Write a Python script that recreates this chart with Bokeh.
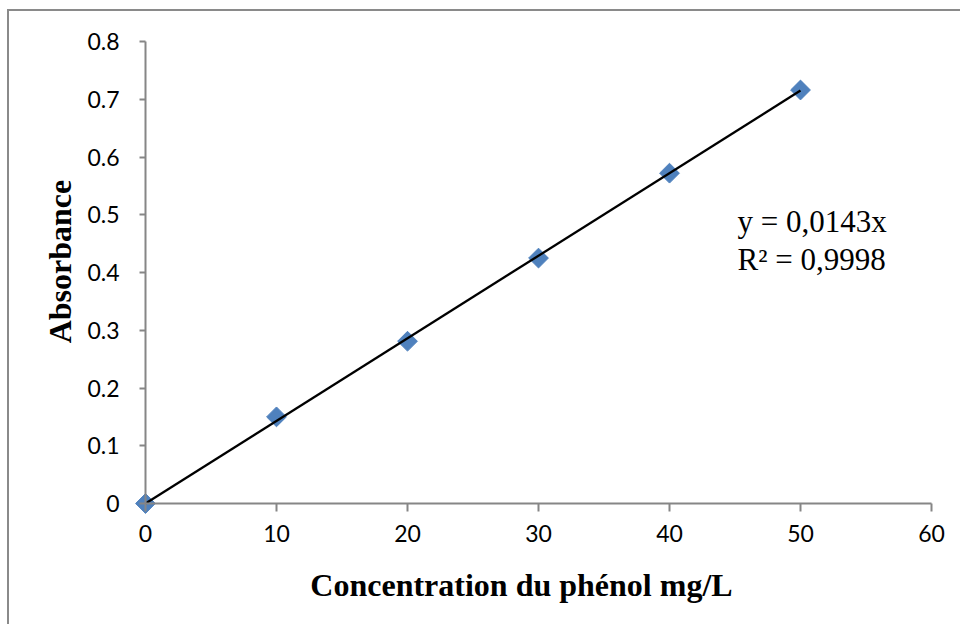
from bokeh.plotting import figure
from bokeh.models import Range1d, FixedTicker, CustomJSTickFormatter, Label, ColumnDataSource
from bokeh.embed import file_html
from bokeh.resources import INLINE
import math

# Data
conc = [0, 10, 20, 30, 40, 50]
absorbance = [0.0, 0.150, 0.281, 0.425, 0.572, 0.716]
trend_x = [0, 50]
trend_y = [0.0, 0.715]
x_ticks = [0, 10, 20, 30, 40, 50, 60]
y_ticks = [0, 0.1, 0.2, 0.3, 0.4, 0.5, 0.6, 0.7, 0.8]
eq_text = "y = 0,0143x"
r2_text = "R² = 0,9998"
x_title = "Concentration du phénol mg/L"
y_title = "Absorbance"

# frame covers the whole canvas; ranges chosen so that the axes sit where the
# reference draws them (x: 0 -> 145px, 60 -> 931px; y: 0 -> 503px, 0.8 -> 41px)
p = figure(width=960, height=624, output_backend="svg", toolbar_location=None, title=None,
           x_range=Range1d(-11.0687, 62.2137), y_range=Range1d(-0.209524, 0.870996),
           min_border_left=0, min_border_right=0, min_border_top=0, min_border_bottom=0)
p.grid.visible = False
p.outline_line_color = None
p.background_fill_color = None
p.border_fill_color = None
p.styles = {
    "background": "linear-gradient(#8a8a8a,#8a8a8a) 7px 9px / 2px 100% no-repeat, "
                  "linear-gradient(#8a8a8a,#8a8a8a) 7px 9px / 100% 2px no-repeat, white"
}

axis_col = "#868686"
for ax in (p.xaxis[0], p.yaxis[0]):
    ax.axis_line_color = axis_col
    ax.axis_line_width = 2
    ax.major_tick_line_color = axis_col
    ax.major_tick_line_width = 2
    ax.major_tick_in = 0
    ax.minor_tick_line_color = None
    ax.major_label_text_font = "Lato"
    ax.major_label_text_font_size = "23px"
    ax.major_label_text_color = "black"
    ax.fixed_location = 0

p.xaxis.bounds = (0, 60)
p.yaxis.bounds = (0, 0.8)
p.xaxis.ticker = FixedTicker(ticks=x_ticks)
p.yaxis.ticker = FixedTicker(ticks=y_ticks)
p.yaxis.formatter = CustomJSTickFormatter(code="return tick.toFixed(1).replace(/\\.0$/, '');")
p.xaxis.formatter = CustomJSTickFormatter(code="return tick.toFixed(0);")
p.xaxis.major_tick_out = 8
p.yaxis.major_tick_out = 6
p.xaxis.major_label_standoff = 14
p.yaxis.major_label_standoff = 20

src = ColumnDataSource(dict(x=conc, y=absorbance))
p.scatter("x", "y", source=src, marker="square", angle=math.pi / 4, size=14,
          fill_color="#4F81BD", line_color="#4F81BD")
p.line(trend_x, trend_y, line_color="black", line_width=2.3)

p.add_layout(Label(x=45.2, y=0.489, text=eq_text, text_font="Liberation Serif",
                   text_font_size="31px", text_color="black", text_baseline="alphabetic"))
p.add_layout(Label(x=45.2, y=0.423, text=r2_text, text_font="Liberation Serif",
                   text_font_size="31px", text_color="black", text_baseline="alphabetic"))

p.add_layout(Label(x=28.70, y=-0.1403, text=x_title, text_font="Liberation Serif",
                   text_font_style="bold", text_font_size="32px", text_color="black",
                   text_align="center", text_baseline="alphabetic"))
p.add_layout(Label(x=-6.49, y=0.419, text=y_title, text_font="Liberation Serif",
                   text_font_style="bold", text_font_size="32px", text_color="black",
                   text_align="center", text_baseline="alphabetic", angle=math.pi / 2))

open("out.html", "w").write(file_html(p, INLINE))
